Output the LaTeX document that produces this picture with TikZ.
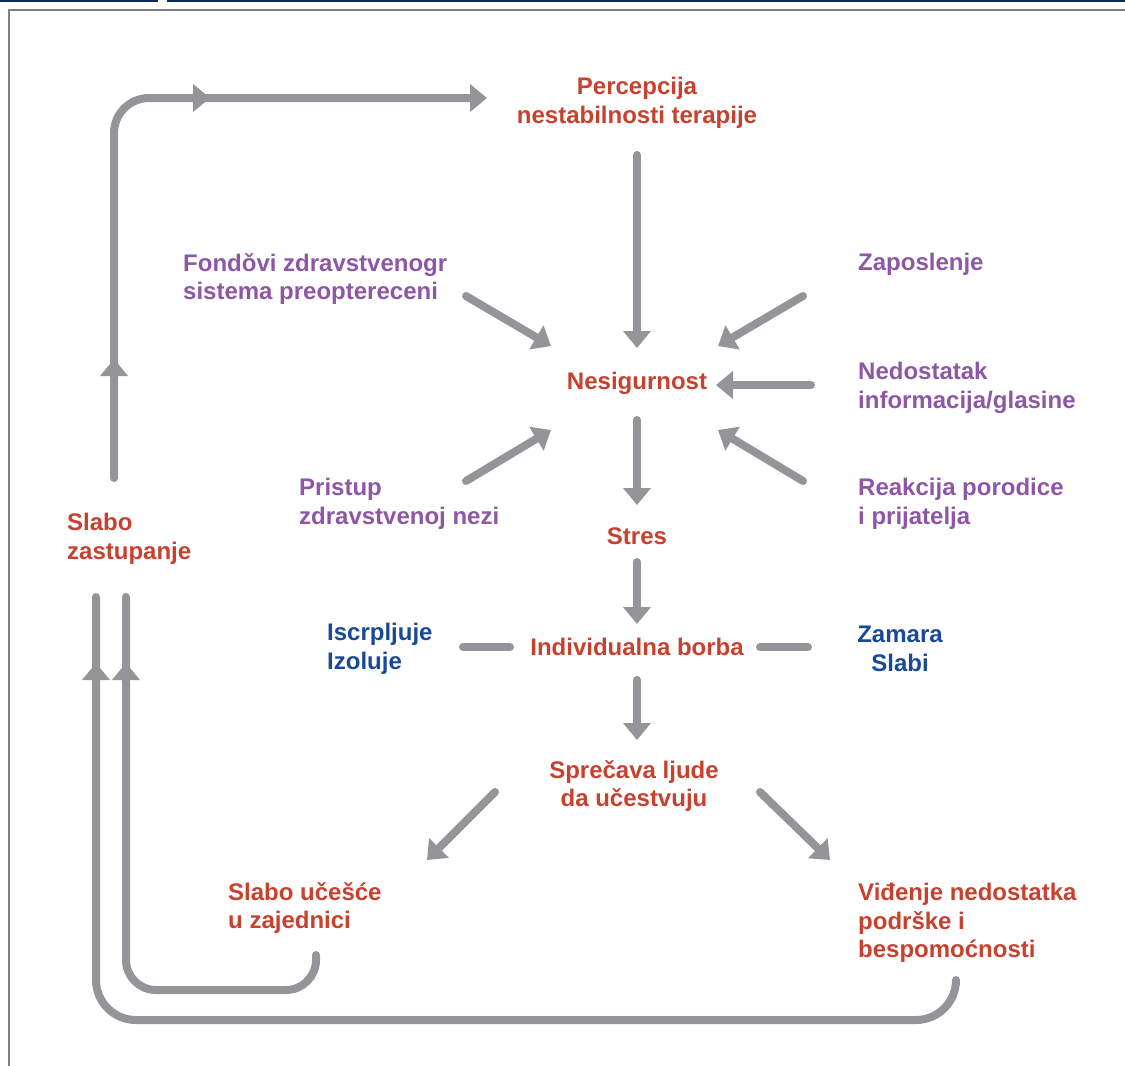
\documentclass[tikz,border=0pt]{standalone}
\usepackage{fontspec}
\setmainfont{Liberation Sans}
\usetikzlibrary{arrows.meta}
\usetikzlibrary{decorations.markings}

\definecolor{txtred}{RGB}{200,64,46}
\definecolor{txtpurple}{RGB}{141,87,166}
\definecolor{txtblue}{RGB}{24,74,150}
\definecolor{arrgray}{RGB}{147,149,152}
\definecolor{navy}{RGB}{12,42,92}

\tikzset{
	lbl/.style={inner sep=0pt, font=\fontsize{24}{28.5}\selectfont\bfseries},
	redlbl/.style={lbl, text=txtred},
	purplbl/.style={lbl, text=txtpurple},
	bluelbl/.style={lbl, text=txtblue},
	tip/.style={-{Triangle[width=27pt,length=17pt]}},
	ln/.style={line width=8pt, draw=arrgray, line cap=round},
	arr/.style={ln, tip},
	midtip/.style={decoration={markings, mark=at position #1 with {\arrow{Triangle[width=27pt,length=17pt]}}}, postaction={decorate}}
}

\begin{document}
\begin{tikzpicture}[x=1pt, y=-1pt]
	% page: 1125 x 1066 px
	\useasboundingbox (0,0) rectangle (1125,1066);
	\draw[navy, line width=2.5pt] (0,1) -- (158,1);
	\draw[navy, line width=2.5pt] (167,1) -- (1125,1);
	\draw[gray, line width=1.5pt] (9,1066) -- (9,10) -- (1125,10);

	% main chain
	\node[redlbl, align=center] (perc) at (637,103) {Percepcija\\nestabilnosti terapije};
	\node[redlbl] (nes) at (637,383) {Nesigurnost};
	\node[redlbl] (stres) at (637,536) {Stres};
	\node[redlbl] (ind) at (637,647) {Individualna borba};
	\node[redlbl, align=center] (spr) at (634,786) {Sprečava ljude\\da učestvuju};
	\node[redlbl, align=left, anchor=west] (slu) at (228,908) {Slabo učešće\\u zajednici};
	\node[redlbl, align=left, anchor=west] (vid) at (858,923) {Viđenje nedostatka\\podrške i\\bespomoćnosti};
	\node[redlbl, align=left, anchor=west] (slz) at (67,539) {Slabo\\zastupanje};

	% factors
	\node[purplbl, align=left, anchor=west] (fond) at (183,279) {Fondǒvi zdravstvenogr\\sistema preoptereceni};
	\node[purplbl, anchor=west] (zap) at (858,264) {Zaposlenje};
	\node[purplbl, align=left, anchor=west] (ned) at (858,388) {Nedostatak\\informacija/glasine};
	\node[purplbl, align=left, anchor=west] (reak) at (858,504) {Reakcija porodice\\i prijatelja};
	\node[purplbl, align=left, anchor=west] (prist) at (299,504) {Pristup\\zdravstvenoj nezi};
	\node[bluelbl, align=left, anchor=west] (isc) at (327,649) {Iscrpljuje\\Izoluje};
	\node[bluelbl, align=center] (zam) at (900,649) {Zamara\\Slabi};

	% arrows
	\draw[arr] ([shift={(0,52)}]perc.center) -- ([shift={(0,-35)}]nes.center);
	\draw[arr] ([shift={(0,37)}]nes.center) -- ([shift={(0,-31)}]stres.center);
	\draw[arr] ([shift={(0,26)}]stres.center) -- ([shift={(0,-23)}]ind.center);
	\draw[arr] ([shift={(0,33)}]ind.center) -- ([shift={(3,-46)}]spr.center);
	\draw[arr] ([shift={(-139,6)}]spr.center) -- ([shift={(199,-48)}]slu.west);
	\draw[arr] ([shift={(126,6)}]spr.center) -- ([shift={(-28,-63)}]vid.west);

	\draw[arr] ([shift={(283,17)}]fond.west) -- ([shift={(-86,-37)}]nes.center);
	\draw[arr] ([shift={(-55,32)}]zap.west) -- ([shift={(81,-37)}]nes.center);
	\draw[arr] ([shift={(-47,-3)}]ned.west) -- ([shift={(79,2)}]nes.center);
	\draw[arr] ([shift={(-55,-23)}]reak.west) -- ([shift={(81,47)}]nes.center);
	\draw[arr] ([shift={(167,-23)}]prist.west) -- ([shift={(-86,47)}]nes.center);

	\draw[ln] ([shift={(136,-2)}]isc.west) -- ([shift={(-127,0)}]ind.center);
	\draw[ln] ([shift={(123,0)}]ind.center) -- ([shift={(-92,-2)}]zam.center);

	% feedback loops
	\draw[arr, rounded corners=35pt, midtip=119pt,
		decoration={markings, mark=at position 461pt with {\arrow{Triangle[width=27pt,length=17pt]}}}]
		([shift={(47,-61)}]slz.west) |- ([shift={(-150,-5)}]perc.center);
	\draw[ln, rounded corners=40pt, midtip=-66pt]
		([shift={(98,57)}]vid.west) -- ++(0,40) -| ([shift={(29,58)}]slz.west);
	\draw[ln, rounded corners=30pt, midtip=-66pt]
		([shift={(88,47)}]slu.west) -- ++(0,35) -| ([shift={(59,58)}]slz.west);
\end{tikzpicture}
\end{document}
